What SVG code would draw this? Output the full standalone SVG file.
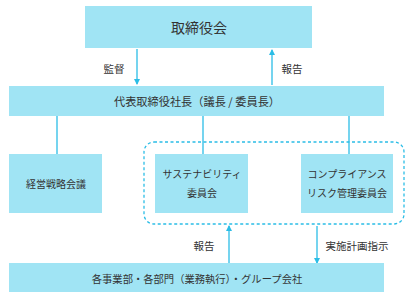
<svg xmlns="http://www.w3.org/2000/svg" width="413" height="298" viewBox="0 0 413 298">
<style>
.box{fill:#a0e4f4;}
.t{font-family:"Noto Sans CJK JP","Noto Sans CJK SC",sans-serif;fill:#333;text-anchor:middle;dominant-baseline:central;}
.ln{stroke:#2bbde6;stroke-width:1.3;fill:none;}
</style>
<defs>
<marker id="ah" markerWidth="6" markerHeight="6" refX="5" refY="3" orient="auto" markerUnits="userSpaceOnUse">
<path d="M0,0 L6,3 L0,6 Z" fill="#2bbde6"/>
</marker>
</defs>
<rect width="413" height="298" fill="#fff"/>
<g id="connectors">
<line class="ln" x1="137" y1="49" x2="137" y2="84" marker-end="url(#ah)"/>
<line class="ln" x1="272" y1="85" x2="272" y2="50" marker-end="url(#ah)"/>
<line class="ln" x1="57" y1="116" x2="57" y2="154"/>
<line class="ln" x1="203" y1="116" x2="203" y2="154"/>
<line class="ln" x1="349" y1="116" x2="349" y2="154"/>
<line class="ln" x1="229" y1="263" x2="229" y2="226" marker-end="url(#ah)"/>
<line class="ln" x1="317" y1="226" x2="317" y2="263" marker-end="url(#ah)"/>
<text class="t" x="114" y="68" font-size="10.5">監督</text>
<text class="t" x="292" y="68" font-size="10.5">報告</text>
<text class="t" x="204" y="245" font-size="10.5">報告</text>
<text class="t" x="357" y="245" font-size="10.5">実施計画指示</text>
</g>
<g id="group-committees">
<rect x="144" y="142" width="260" height="82" rx="10" fill="none" stroke="#2bbde6" stroke-width="1.3" stroke-dasharray="3,2.5"/>
</g>
<g id="board">
<rect class="box" x="85" y="6" width="227" height="42"/>
<text class="t" x="199" y="27" font-size="14">取締役会</text>
</g>
<g id="president">
<rect class="box" x="9" y="86" width="375" height="30"/>
<text class="t" x="197" y="101" font-size="11.2">代表取締役社長（議長 / 委員長）</text>
</g>
<g id="strategy">
<rect class="box" x="9" y="154" width="93" height="59"/>
<text class="t" x="56" y="183" font-size="10">経営戦略会議</text>
</g>
<g id="sustainability">
<rect class="box" x="155" y="154" width="93" height="59"/>
<text class="t" x="202" y="173" font-size="10">サステナビリティ</text>
<text class="t" x="202" y="192" font-size="10">委員会</text>
</g>
<g id="compliance">
<rect class="box" x="301" y="154" width="92" height="59"/>
<text class="t" x="347" y="173" font-size="10">コンプライアンス</text>
<text class="t" x="347" y="192" font-size="10">リスク管理委員会</text>
</g>
<g id="divisions">
<rect class="box" x="9" y="263" width="375" height="29"/>
<text class="t" x="197" y="278" font-size="10.3">各事業部・各部門（業務執行）・グループ会社</text>
</g>
</svg>
